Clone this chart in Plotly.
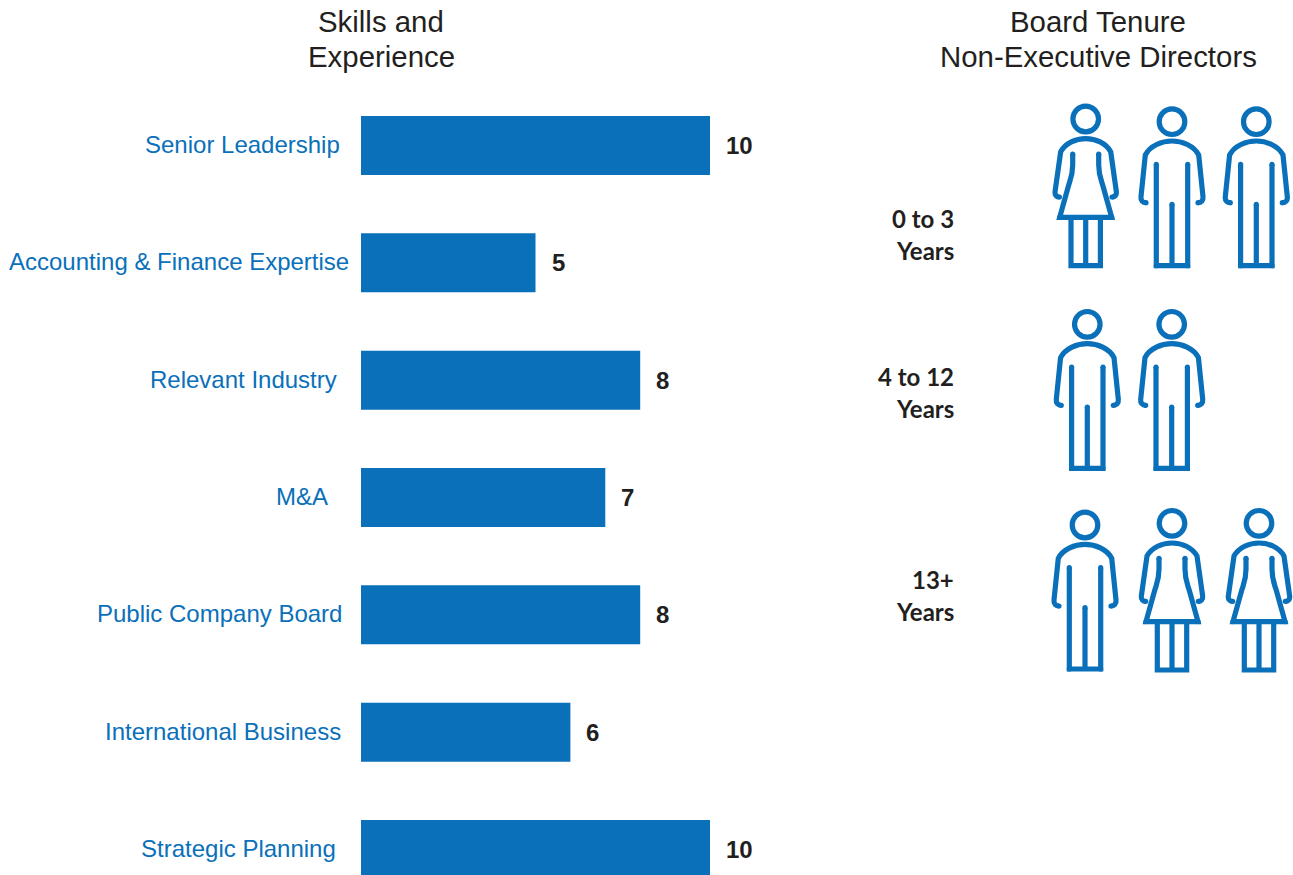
import plotly.graph_objects as go

WIDTH, HEIGHT = 1293, 875
BLUE = "#0a70ba"
INK = "#231f20"
STROKE = 5.2

# Skills matrix
skills = ["Senior Leadership", "Accounting & Finance Expertise", "Relevant Industry", "M&A",
          "Public Company Board", "International Business", "Strategic Planning"]
director_counts = [10, 5, 8, 7, 8, 6, 10]
label_gaps = [19, 10, 22, 31, 17, 18, 23]

# Tenure bands, one letter per director
tenure_bands = [("0 to 3", "Years"), ("4 to 12", "Years"), ("13+", "Years")]
tenure_directors = [["F", "M", "M"], ["M", "M"], ["M", "F", "F"]]
tenure_label_y = [218, 376, 579]
icon_heads = [[(1085.7, 119), (1172, 121.7), (1256.3, 121.7)],
              [(1087.3, 324.3), (1171.7, 324.3)],
              [(1085, 525), (1172, 523.3), (1259, 523.3)]]

# Headings, one entry per centred line
heading_lines = [("Skills and", 381, 21), ("Experience", 381, 56),
                 ("Board Tenure", 1098, 21), ("Non-Executive Directors", 1098, 56)]


def male_parts(cx, cy):
    def p(x, y):
        return f"{cx + x:.1f} {cy + y:.1f}"
    outline = (f"M {p(-26, 81)} C {p(-29, 81)} {p(-31.5, 79)} {p(-31, 75)} L {p(-26.7, 33.3)} "
               f"C {p(-22, 24)} {p(-10, 19.3)} {p(0, 19.3)} C {p(10, 19.3)} {p(22, 24)} {p(26.7, 33.3)} "
               f"L {p(31, 75)} C {p(31.5, 79)} {p(29, 81)} {p(26, 81)}")
    legs = f"M {p(-15.7, 42.7)} L {p(-15.7, 144)} L {p(15.7, 144)} L {p(15.7, 42.7)}"
    inner = f"M {p(0, 82.7)} L {p(0, 144)}"
    ends = [(-26, 81), (26, 81), (-15.7, 42.7), (15.7, 42.7), (0, 82.7), (-15.7, 144), (15.7, 144)]
    return [outline, legs, inner], ends


def female_parts(cx, cy):
    def p(x, y):
        return f"{cx + x:.1f} {cy + y:.1f}"
    outline = (f"M {p(-26.3, 78)} C {p(-29, 78)} {p(-31, 76)} {p(-30.7, 73)} L {p(-25, 32.7)} "
               f"C {p(-20, 24)} {p(-10, 19.7)} {p(0, 19.7)} C {p(10, 19.7)} {p(20, 24)} {p(25, 32.7)} "
               f"L {p(30.7, 73)} C {p(31, 76)} {p(29, 78)} {p(26.3, 78)}")
    dress = (f"M {p(-13, 35)} L {p(-13, 46)} C {p(-13, 56)} {p(-15, 60)} {p(-17, 66)} L {p(-26, 98.3)} "
             f"L {p(26, 98.3)} L {p(17, 66)} C {p(15, 60)} {p(13, 56)} {p(13, 46)} L {p(13, 35)}")
    legs = f"M {p(-14.7, 98.3)} L {p(-14.7, 146.7)} L {p(14.7, 146.7)} L {p(14.7, 98.3)}"
    inner = f"M {p(0, 98.3)} L {p(0, 146.7)}"
    ends = [(-26.3, 78), (26.3, 78), (-13, 35), (13, 35), (-26, 98.3), (26, 98.3)]
    return [outline, dress, legs, inner], ends


fig = go.Figure()

fig.add_trace(go.Bar(
    y=list(range(len(skills))), x=director_counts, orientation="h", width=0.503,
    marker=dict(color=BLUE, line=dict(width=0)), hoverinfo="skip",
))

shapes = []
page_refs = dict(xref="x2", yref="y2")
for group, heads in zip(tenure_directors, icon_heads):
    for kind, (cx, cy) in zip(group, heads):
        shapes.append(dict(type="circle", x0=cx - 12.8, x1=cx + 12.8, y0=cy - 12.8, y1=cy + 12.8,
                           line=dict(color=BLUE, width=STROKE), **page_refs))
        paths, ends = (female_parts if kind == "F" else male_parts)(cx, cy)
        for d in paths:
            shapes.append(dict(type="path", path=d, line=dict(color=BLUE, width=STROKE), **page_refs))
        # Rounded stroke ends
        for ex, ey in ends:
            r = STROKE / 2
            shapes.append(dict(type="circle", x0=cx + ex - r, x1=cx + ex + r, y0=cy + ey - r, y1=cy + ey + r,
                               fillcolor=BLUE, line=dict(width=0), **page_refs))

annotations = []
for i, (name, value, gap) in enumerate(zip(skills, director_counts, label_gaps)):
    annotations.append(dict(x=0, y=i, xref="x", yref="y", yshift=1, text=name, showarrow=False,
                            xanchor="right", xshift=-gap,
                            font=dict(family="Liberation Sans", size=24, color=BLUE)))
    annotations.append(dict(x=value, y=i, xref="x", yref="y", text=f"<b>{value}</b>", showarrow=False,
                            xanchor="left", xshift=14,
                            font=dict(family="Liberation Sans", size=24, color=INK)))

for lines, y in zip(tenure_bands, tenure_label_y):
    for k, line in enumerate(lines):
        annotations.append(dict(x=955.5, y=y + 32 * k, text=f"<b>{line}</b>", showarrow=False,
                                xanchor="right", font=dict(family="Lato", size=24, color=INK), **page_refs))

for text, x, y in heading_lines:
    annotations.append(dict(x=x, y=y, text=text, showarrow=False,
                            font=dict(family="Liberation Sans", size=29.4, color=INK), **page_refs))

pitch = 117.33
first_center = 145.5
fig.update_layout(
    width=WIDTH, height=HEIGHT, margin=dict(l=0, r=0, t=0, b=0),
    paper_bgcolor="white", plot_bgcolor="rgba(0,0,0,0)", showlegend=False,
    xaxis=dict(domain=[361 / WIDTH, 710 / WIDTH], range=[0, 10], visible=False, anchor="y"),
    yaxis=dict(domain=[0, 1], range=[(HEIGHT - first_center) / pitch, -first_center / pitch],
               visible=False, anchor="x"),
    # Second axis pair in page units for the pictograms and headings
    xaxis2=dict(domain=[0, 1], range=[0, WIDTH], visible=False, anchor="y2"),
    yaxis2=dict(domain=[0, 1], range=[HEIGHT, 0], visible=False, anchor="x2"),
    shapes=shapes, annotations=annotations,
)

fig.write_html("out.html", config={"displayModeBar": False})
